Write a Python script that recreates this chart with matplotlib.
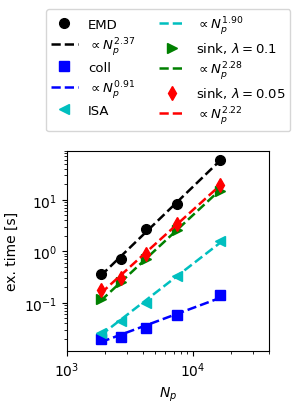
import matplotlib
matplotlib.use("Agg")
import matplotlib.pyplot as plt
import numpy as np

# particle numbers
n_p = np.array([1850, 2700, 4200, 7500, 16400])

# execution times [s]
t_emd = np.array([0.36, 0.70, 2.7, 8.3, 60.0])
t_coll = np.array([0.020, 0.022, 0.032, 0.057, 0.14])
t_isa = np.array([0.026, 0.044, 0.10, 0.33, 1.59])
t_sink1 = np.array([0.12, 0.25, 0.70, 2.6, 15.0])
t_sink05 = np.array([0.18, 0.30, 0.90, 3.4, 19.6])

# fitted exponents
exp_emd, exp_coll, exp_isa, exp_sink1, exp_sink05 = 2.37, 0.91, 1.90, 2.28, 2.22

series = [
    ("EMD", t_emd, exp_emd, "k", "o"),
    ("coll", t_coll, exp_coll, "b", "s"),
    ("ISA", t_isa, exp_isa, "c", "<"),
    (r"sink, $\lambda=0.1$", t_sink1, exp_sink1, "g", ">"),
    (r"sink, $\lambda=0.05$", t_sink05, exp_sink05, "r", "d"),
]

fig = plt.figure(figsize=(3.0, 4.06), dpi=100)
ax = fig.add_axes([0.223, 0.133, 0.674, 0.493])

for label, t, ex, c, m in series:
    ax.plot(n_p, t, m, color=c, markersize=7, linestyle="none", label=label)
    # power law with fixed exponent, prefactor from least squares in log space
    pref = np.mean(np.log10(t) - ex * np.log10(n_p))
    ax.plot(n_p, 10**pref * n_p**ex, "--", color=c, lw=1.8,
            label=r"$\propto N_p^{%.2f}$" % ex)

ax.set_xscale("log")
ax.set_yscale("log")
ax.set_xlim(1e3, 4e4)
ax.set_ylim(0.0115, 90)
ax.set_xlabel(r"$N_p$")
ax.set_ylabel("ex. time [s]")

handles, labels = ax.get_legend_handles_labels()
fig.legend(handles, labels, ncol=2, loc="upper left",
           bbox_to_anchor=(46/300, 1 - 10/406), borderaxespad=0,
           fontsize=9.5, labelspacing=0.3, handlelength=2.0, columnspacing=1.75)

fig.savefig("out.png", dpi=100)
